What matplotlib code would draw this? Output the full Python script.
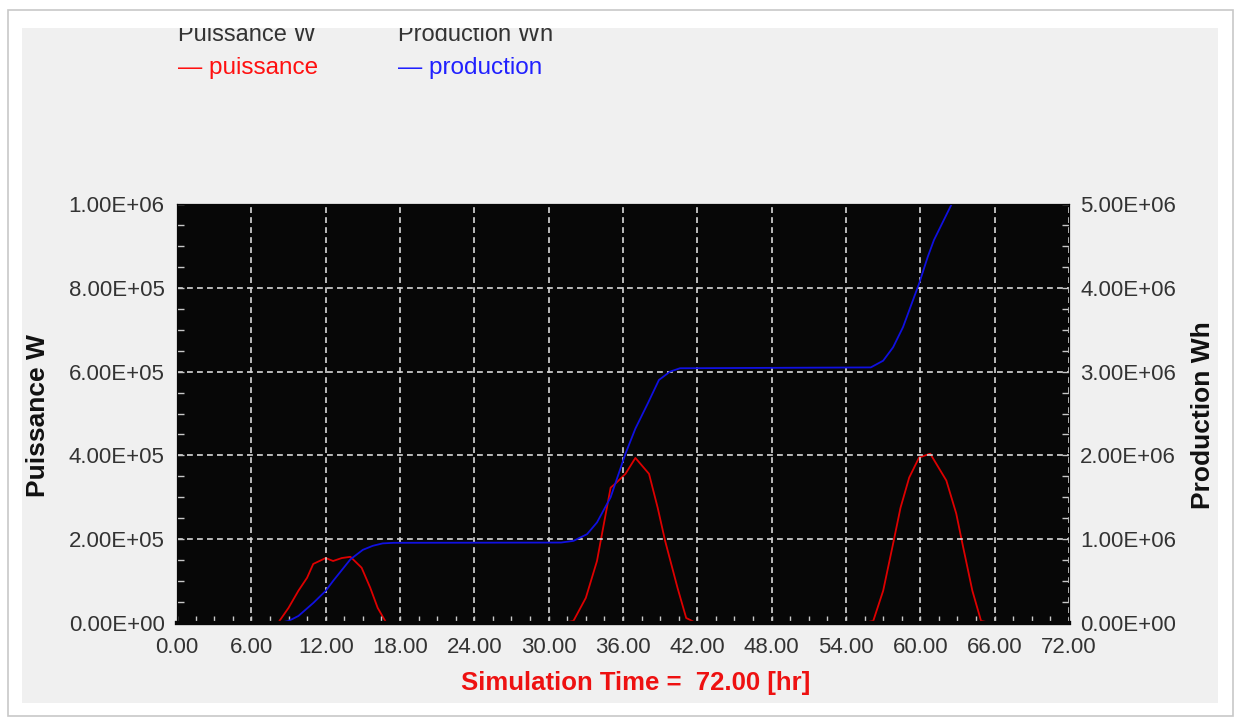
import numpy as np
import matplotlib
matplotlib.use("Agg")
import matplotlib.pyplot as plt
from matplotlib.patches import Rectangle
from matplotlib.ticker import MultipleLocator, FormatStrFormatter

# Data (time in hr)
power_time = [0, 7.5, 8.2, 9.0, 9.8, 10.5, 11.0, 12.0, 12.6, 13.3, 14.0, 14.9, 15.6, 16.2, 16.9,
              31.2, 32.0, 33.0, 33.9, 34.2, 35.0, 35.4, 36.2, 37.0, 38.1, 38.8, 39.4, 40.4, 41.1, 41.9,
              55.4, 56.2, 57.0, 57.8, 58.4, 59.1, 59.9, 60.8, 62.1, 62.9, 63.4, 64.2, 64.9, 65.7, 72]
power_w = [0, 0, 2e3, 36e3, 77e3, 108e3, 141e3, 155e3, 148e3, 155e3, 158e3, 132e3, 84e3, 36e3, 0,
           0, 5e3, 60e3, 148e3, 196e3, 323e3, 333e3, 356e3, 394e3, 356e3, 275e3, 196e3, 84e3, 12e3, 0,
           0, 5e3, 77e3, 189e3, 275e3, 347e3, 395e3, 404e3, 340e3, 261e3, 189e3, 77e3, 5e3, 0, 0]

prod_time = [0, 8.2, 9.0, 9.8, 11.0, 12.0, 12.6, 14.0, 15.0, 15.8, 16.6, 17.5,
             31.0, 32.0, 33.1, 33.9, 35.0, 36.2, 37.0, 38.0, 38.9, 39.8, 40.6,
             56.0, 57.0, 57.8, 58.6, 59.2, 59.9, 60.6, 61.1, 62.5, 63.4, 64.5, 72]
prod_wh = [0, 0, 24e3, 84e3, 239e3, 383e3, 502e3, 760e3, 873e3, 921e3, 950e3, 957e3,
           960e3, 980e3, 1.06e6, 1.2e6, 1.5e6, 2.02e6, 2.32e6, 2.62e6, 2.9e6, 3.0e6, 3.04e6,
           3.05e6, 3.13e6, 3.29e6, 3.53e6, 3.77e6, 4.05e6, 4.37e6, 4.57e6, 4.99e6, 5.2e6, 5.5e6, 5.55e6]

x_major = np.arange(0, 73, 6)

W, H = 1236, 718
FONT = "Liberation Sans"
plt.rcParams["font.family"] = [FONT, "DejaVu Sans"]


def fx(px):
    return px / W


def fy(py):
    return 1 - py / H


fig = plt.figure(figsize=(W / 100, H / 100), dpi=100, facecolor="white")

# grey panel behind everything
fig.patches.append(Rectangle((fx(22), fy(703)), fx(1218) - fx(22), fy(28) - fy(703),
                             transform=fig.transFigure, facecolor="#f0f0f0",
                             edgecolor="none", zorder=-5))

left, right, top, bottom = 177, 1069, 204, 623
ax = fig.add_axes([fx(left), fy(bottom), fx(right) - fx(left), fy(top) - fy(bottom)])
ax.set_facecolor("#070707")
ax2 = ax.twinx()

ax.plot(power_time, power_w, color="#dd0000", lw=1.3)
ax2.plot(prod_time, prod_wh, color="#1010e0", lw=1.3)

ax.set_xlim(0, 72)
ax.set_ylim(0, 1e6)
ax2.set_ylim(0, 5e6)

ax.set_xticks(x_major)
ax.xaxis.set_minor_locator(MultipleLocator(1.5))
ax.yaxis.set_major_locator(MultipleLocator(2e5))
ax.yaxis.set_minor_locator(MultipleLocator(5e4))
ax2.yaxis.set_major_locator(MultipleLocator(1e6))
ax2.yaxis.set_minor_locator(MultipleLocator(2.5e5))
ax.xaxis.set_major_formatter(FormatStrFormatter("%.2f"))
ax.yaxis.set_major_formatter(FormatStrFormatter("%.2E"))
ax2.yaxis.set_major_formatter(FormatStrFormatter("%.2E"))

ax.grid(True, which="major", color="#d8d8d8", lw=1.2, linestyle=(0, (3.5, 2.5)))
ax.set_axisbelow(False)

for a in (ax, ax2):
    a.tick_params(which="both", direction="in", length=5, width=1, color="#c8c8c8",
                  labelsize=16, labelcolor="#333333")
    for s in a.spines.values():
        s.set_color("#070707")
    a.spines["bottom"].set_linewidth(3)
ax.tick_params(axis="x", which="both", pad=10)
ax.tick_params(axis="y", which="both", pad=9)
ax2.tick_params(axis="y", which="both", pad=8)

fig.text(fx(38), fy(416), "Puissance W", rotation=90, ha="center", va="center",
         fontsize=19, fontweight="bold", color="#111111")
fig.text(fx(1203), fy(415), "Production Wh", rotation=90, ha="center", va="center",
         fontsize=19, fontweight="bold", color="#111111")
fig.text(fx(636), fy(683), "Simulation Time =  72.00 [hr]", ha="center", va="center",
         fontsize=18.5, fontweight="bold", color="#ee1111")

# legend at top
fig.text(fx(178), fy(41), "Puissance W", ha="left", va="baseline", fontsize=17, color="#333333")
fig.text(fx(398), fy(41), "Production Wh", ha="left", va="baseline", fontsize=17, color="#333333")
fig.text(fx(178), fy(74), "— puissance", ha="left", va="baseline", fontsize=17.5, color="#ff1010")
fig.text(fx(398), fy(74), "— production", ha="left", va="baseline", fontsize=17.5, color="#2020ff")

# white strip that clips the legend titles, then the outer frame
fig.patches.append(Rectangle((fx(9), fy(28)), fx(1232) - fx(9), fy(11) - fy(28),
                             transform=fig.transFigure, facecolor="white",
                             edgecolor="none", zorder=10))
fig.patches.append(Rectangle((fx(8), fy(716)), fx(1233) - fx(8), fy(10) - fy(716),
                             transform=fig.transFigure, facecolor="none",
                             edgecolor="#c8c8c8", lw=1.2, zorder=11))

fig.savefig("out.png", dpi=100, facecolor="white")
